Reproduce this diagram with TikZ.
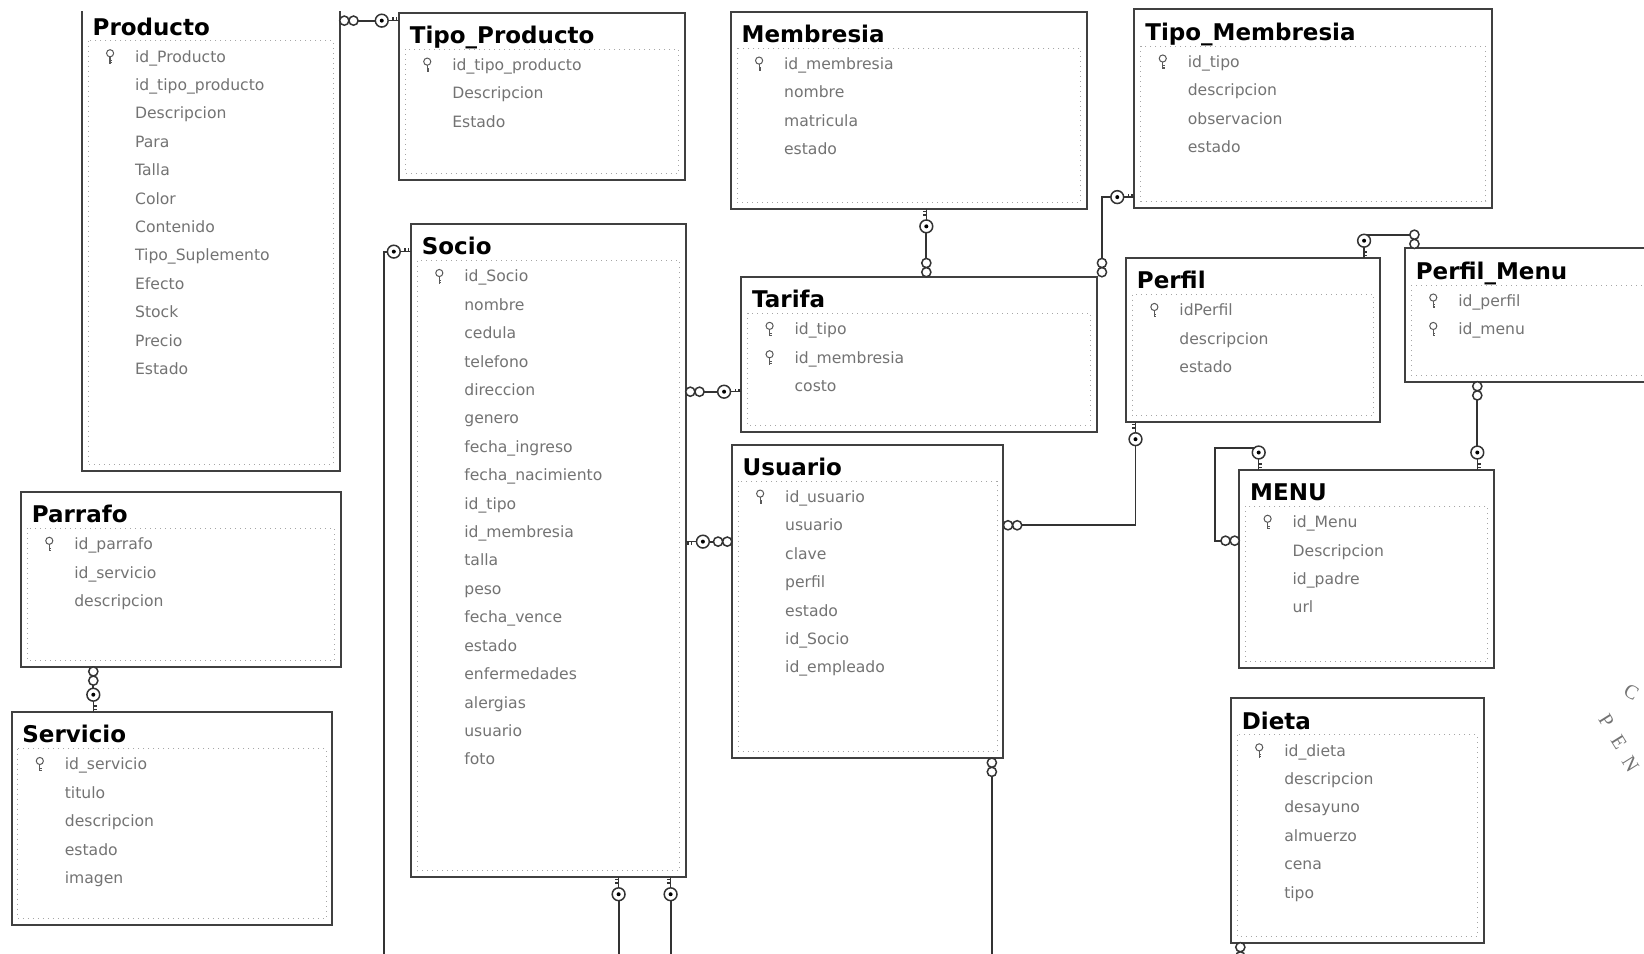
\documentclass[tikz,border=0pt]{standalone}
\usepackage{fontspec}
\setmainfont{DejaVu Sans}
\newfontfamily\sello{Liberation Serif}
\usepackage{tikz}
\usetikzlibrary{positioning,calc}

\def\ux{0.5243pt}

% llave de la relacion (lado uno)
\pgfdeclarearrow{
  name = Llave,
  setup code = {
    \pgfarrowssettipend{0pt}
    \pgfarrowssetlineend{-8.6pt}
    \pgfarrowssetbackend{-11.8pt}
    \pgfarrowssetvisualbackend{-11.8pt}
    \pgfarrowshullpoint{0pt}{3.2pt}
    \pgfarrowshullpoint{0pt}{-3.2pt}
    \pgfarrowshullpoint{-11.8pt}{3.2pt}
    \pgfarrowshullpoint{-11.8pt}{-3.2pt}
  },
  drawing code = {
    \pgfsetdash{}{0pt}
    \pgfsetlinewidth{0.75pt}
    \pgfpathmoveto{\pgfpoint{0pt}{0pt}}
    \pgfpathlineto{\pgfpoint{-5.4pt}{0pt}}
    \pgfpathmoveto{\pgfpoint{-1.2pt}{0pt}}
    \pgfpathlineto{\pgfpoint{-1.2pt}{1.6pt}}
    \pgfpathmoveto{\pgfpoint{-2.9pt}{0pt}}
    \pgfpathlineto{\pgfpoint{-2.9pt}{1.6pt}}
    \pgfusepathqstroke
    \pgfpathcircle{\pgfpoint{-8.6pt}{0pt}}{3.2pt}
    \pgfsetfillcolor{white}
    \pgfusepathqfillstroke
    \pgfpathcircle{\pgfpoint{-8.6pt}{0pt}}{1pt}
    \pgfsetfillcolor{black}
    \pgfusepathqfill
  }
}
% infinito (lado muchos)
\pgfdeclarearrow{
  name = Infinito,
  setup code = {
    \pgfarrowssettipend{0pt}
    \pgfarrowssetlineend{-4.6pt}
    \pgfarrowssetbackend{-9.2pt}
    \pgfarrowssetvisualbackend{-9.2pt}
    \pgfarrowshullpoint{0pt}{2.3pt}
    \pgfarrowshullpoint{0pt}{-2.3pt}
    \pgfarrowshullpoint{-9.2pt}{2.3pt}
    \pgfarrowshullpoint{-9.2pt}{-2.3pt}
  },
  drawing code = {
    \pgfsetdash{}{0pt}
    \pgfsetlinewidth{0.75pt}
    \pgfpathcircle{\pgfpoint{-2.3pt}{0pt}}{2.3pt}
    \pgfpathcircle{\pgfpoint{-6.9pt}{0pt}}{2.3pt}
    \pgfsetfillcolor{white}
    \pgfusepathqfillstroke
  }
}

% #1 nombre, #2 izq, #3 arriba, #4 der, #5 abajo, #6 titulo, #7 llaves, #8 campos
\newcommand{\tabla}[8]{%
  \node[caja, anchor=north west, minimum width={(#4-#2)*\ux}, minimum height={(#5-#3)*\ux}] (#1) at (#2,#3) {};
  \draw[punteado] (#2+6,#3+35) rectangle (#4-6,#5-6);
  \node[titulo, anchor=base west] (#1-t) at (#2+10,#3+29.5) {#6};
  \foreach \cmp [count=\i] in {#8} {
    \node[campo, anchor=base west] (#1-\i) at (#2+50.5,{#3+55.2+(\i-1)*27.1}) {\cmp};
    \ifnum\i>#7 \else \pic at (#2+27,{#3+50+(\i-1)*27.1}) {llavecampo}; \fi
  }%
}

\begin{document}
\begin{tikzpicture}
    [x=\ux,y=-\ux,
     caja/.style={rectangle,draw=black!75,line width=1pt,fill=white,inner sep=0pt,outer sep=0pt},
     punteado/.style={draw=black!35,dotted,line width=0.5pt},
     titulo/.style={font=\fontsize{11.5}{13}\selectfont\bfseries,inner sep=0pt},
     campo/.style={font=\fontsize{7.8}{9}\selectfont,text=black!55,inner sep=0pt},
     rel/.style={draw=black!80,line width=0.9pt},
     letrasello/.style={font=\sello\fontsize{10}{10}\selectfont,text=black!55,inner sep=0pt,rotate=-58},
     llavecampo/.pic={
       \draw[black!65,line width=0.5pt,fill=white] (0,-3.2) circle (3.4);
       \draw[black!65,line width=0.6pt] (0,0.2) -- (0,6.8) (0,3.8) -- (2,3.8) (0,5.8) -- (2,5.8);
     }]
    \path[use as bounding box,fill=white] (0,0) rectangle (1568,909);

    % la parte de arriba de Producto no sale en la imagen
    \begin{scope}
      \clip (0,11) rectangle (370,470);
      \tabla{producto}{78}{4}{324}{449}{Producto}{1}{id\_Producto,id\_tipo\_producto,Descripcion,Para,Talla,Color,Contenido,Tipo\_Suplemento,Efecto,Stock,Precio,Estado}
    \end{scope}
    \tabla{tipoprod}{380.5}{12}{653}{171.5}{Tipo\_Producto}{1}{id\_tipo\_producto,Descripcion,Estado}
    \tabla{membresia}{697}{11}{1037}{199.5}{Membresia}{1}{id\_membresia,nombre,matricula,estado}
    \tabla{tipomemb}{1082}{9}{1423}{198}{Tipo\_Membresia}{1}{id\_tipo,descripcion,observacion,estado}
    \tabla{socio}{392}{213.6}{654}{836.5}{Socio}{1}{id\_Socio,nombre,cedula,telefono,direccion,genero,fecha\_ingreso,fecha\_nacimiento,id\_tipo,id\_membresia,talla,peso,fecha\_vence,estado,enfermedades,alergias,usuario,foto}
    \tabla{tarifa}{707}{264}{1046}{412}{Tarifa}{2}{id\_tipo,id\_membresia,costo}
    \tabla{usuario}{698}{424}{957}{723}{Usuario}{1}{id\_usuario,usuario,clave,perfil,estado,id\_Socio,id\_empleado}
    \tabla{perfil}{1074}{246}{1316}{402.5}{Perfil}{1}{idPerfil,descripcion,estado}
    \tabla{perfilmenu}{1340}{237}{1600}{364}{Perfil\_Menu}{2}{id\_perfil,id\_menu}
    \tabla{menu}{1182}{448}{1425}{637}{MENU}{1}{id\_Menu,Descripcion,id\_padre,url}
    \tabla{dieta}{1174}{666}{1415}{899}{Dieta}{1}{id\_dieta,descripcion,desayuno,almuerzo,cena,tipo}
    \tabla{parrafo}{20}{469}{325}{636}{Parrafo}{1}{id\_parrafo,id\_servicio,descripcion}
    \tabla{servicio}{11}{679}{317}{882}{Servicio}{1}{id\_servicio,titulo,descripcion,estado,imagen}

    % relaciones
    \draw[rel,Infinito-Llave] (producto.east |- 0,19.7) -- (tipoprod.west |- 0,19.7);
    \draw[rel,Llave-] (socio.west |- 0,240) -| (366,915);
    \draw[rel,Infinito-Llave] (socio.east |- 0,373.6) -- (tarifa.west |- 0,373.6);
    \draw[rel,Llave-Infinito] (socio.east |- 0,516.6) -- (usuario.west |- 0,516.6);
    \draw[rel,Llave-Infinito] (membresia.south -| 883.5,0) -- (tarifa.north -| 883.5,0);
    \draw[rel,Llave-Infinito] (tipomemb.west |- 0,188) -| (tarifa.north -| 1051,0);
    \draw[rel,Llave-Infinito] (perfil.south -| 1083,0) |- (usuario.east |- 0,501);
    \draw[rel,Llave-Infinito] (perfil.north -| 1301,0) -- (1301,224) -| (perfilmenu.north -| 1349,0);
    \draw[rel,Infinito-Llave] (perfilmenu.south -| 1409,0) -- (menu.north -| 1409,0);
    \draw[rel,Llave-Infinito] (menu.north -| 1200.5,0) -- (1200.5,427) -| (1158.6,515.7) -- (menu.west |- 0,515.7);
    \draw[rel,Infinito-Llave] (parrafo.south -| 89,0) -- (servicio.north -| 89,0);
    \draw[rel,Llave-] (socio.south -| 590,0) -- (590,915);
    \draw[rel,Llave-] (socio.south -| 639.6,0) -- (639.6,915);
    \draw[rel,Infinito-] (usuario.south -| 946,0) -- (946,915);
    \draw[rel,Infinito-] (dieta.south -| 1183,0) -- (1183,915);

    % sello (letras separadas, como en la imagen)
    \node[letrasello] (sello-p) at (1532,687) {P};
    \node[letrasello] (sello-e) at (1544,708) {E};
    \node[letrasello] (sello-n) at (1555,729) {N};
    \node[letrasello,rotate=28] (sello-c) at (1556,660) {C};
\end{tikzpicture}
\end{document}
